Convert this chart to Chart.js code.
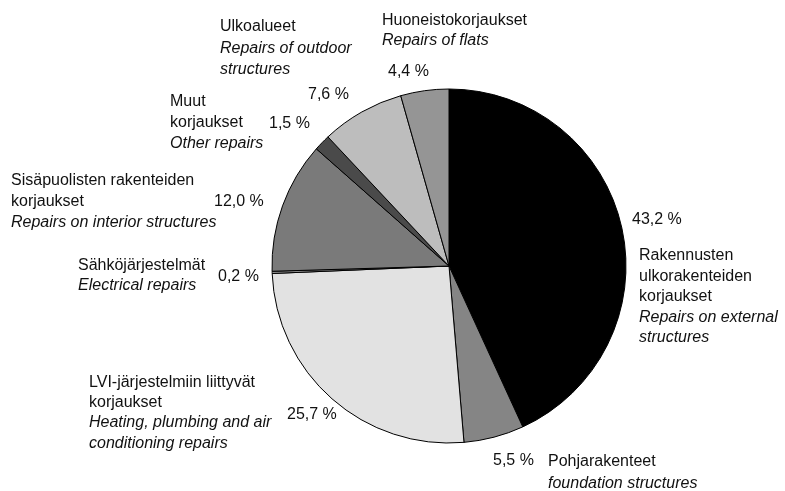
<!DOCTYPE html>
<html>
<head>
<meta charset="utf-8">
<script src="https://cdn.jsdelivr.net/npm/chart.js@4/dist/chart.umd.min.js"></script>
<style>
  html, body { margin: 0; padding: 0; background: #fff; }
  #wrap { position: relative; width: 785px; height: 491px; }
  canvas { display: block; }
</style>
</head>
<body>
<div id="wrap"><canvas id="c" width="785" height="491"></canvas></div>
<script>
// ---- data ----
const categoriesFi = [
  "Rakennusten ulkorakenteiden korjaukset",
  "Pohjarakenteet",
  "LVI-järjestelmiin liittyvät korjaukset",
  "Sähköjärjestelmät",
  "Sisäpuolisten rakenteiden korjaukset",
  "Muut korjaukset",
  "Ulkoalueet",
  "Huoneistokorjaukset"
];
const categoriesEn = [
  "Repairs on external structures",
  "foundation structures",
  "Heating, plumbing and air conditioning repairs",
  "Electrical repairs",
  "Repairs on interior structures",
  "Other repairs",
  "Repairs of outdoor structures",
  "Repairs of flats"
];
const shares = [43.2, 5.5, 25.7, 0.2, 12.0, 1.5, 7.6, 4.4];

// ---- styles ----
const sliceColors = ["#000000", "#858585", "#e2e2e2", "#9a9a9a", "#7a7a7a", "#4a4a4a", "#bdbdbd", "#959595"];

// label layout (positions only; text lines per category)
const labelLayout = [
  {x: 639, y: 260, lines: [["Rakennusten",0],["ulkorakenteiden",0],["korjaukset",0],["Repairs on external",1],["structures",1]], px: 632, py: 224},
  {x: 548, y: 466, lines: [["Pohjarakenteet",0],["foundation structures",1]], px: 493, py: 465},
  {x: 89, y: 387, lines: [["LVI-järjestelmiin liittyvät",0],["korjaukset",0],["Heating, plumbing and air",1],["conditioning repairs",1]], px: 287, py: 419},
  {x: 78, y: 270, lines: [["Sähköjärjestelmät",0],["Electrical repairs",1]], px: 218, py: 281},
  {x: 11, y: 185, lines: [["Sisäpuolisten rakenteiden",0],["korjaukset",0],["Repairs on interior structures",1]], px: 214, py: 206},
  {x: 170, y: 106, lines: [["Muut",0],["korjaukset",0],["Other repairs",1]], px: 269, py: 128},
  {x: 220, y: 31, lines: [["Ulkoalueet",0],["Repairs of outdoor",1],["structures",1]], px: 308, py: 99},
  {x: 382, y: 25, lines: [["Huoneistokorjaukset",0],["Repairs of flats",1]], px: 388, py: 76}
];
const lineGaps = [20.5, 22, 20.2, 20, 21, 21, 21.5, 20];

function fmt(v) { return v.toFixed(1).replace('.', ',') + ' %'; }

const labelPlugin = {
  id: 'labels',
  afterDraw(chart) {
    const ctx = chart.ctx;
    ctx.save();
    ctx.fillStyle = '#111';
    ctx.textBaseline = 'alphabetic';
    ctx.textAlign = 'left';
    labelLayout.forEach((L, i) => {
      L.lines.forEach((ln, k) => {
        ctx.font = (ln[1] ? 'italic ' : '') + '16px "Liberation Sans", Arial, sans-serif';
        ctx.fillText(ln[0], L.x, L.y + k * lineGaps[i]);
      });
      ctx.font = '16px "Liberation Sans", Arial, sans-serif';
      ctx.fillText(fmt(shares[i]), L.px, L.py);
    });
    ctx.restore();
  }
};

new Chart(document.getElementById('c'), {
  type: 'pie',
  data: {
    labels: categoriesFi,
    datasets: [{
      data: shares,
      backgroundColor: sliceColors,
      borderColor: '#000',
      borderWidth: 1,
      radius: 177
    }]
  },
  options: {
    responsive: false,
    animation: false,
    layout: { padding: { left: 113, right: 0, top: 41, bottom: 0 } },
    plugins: { legend: { display: false }, tooltip: { enabled: false } }
  },
  plugins: [labelPlugin]
});
</script>
</body>
</html>
